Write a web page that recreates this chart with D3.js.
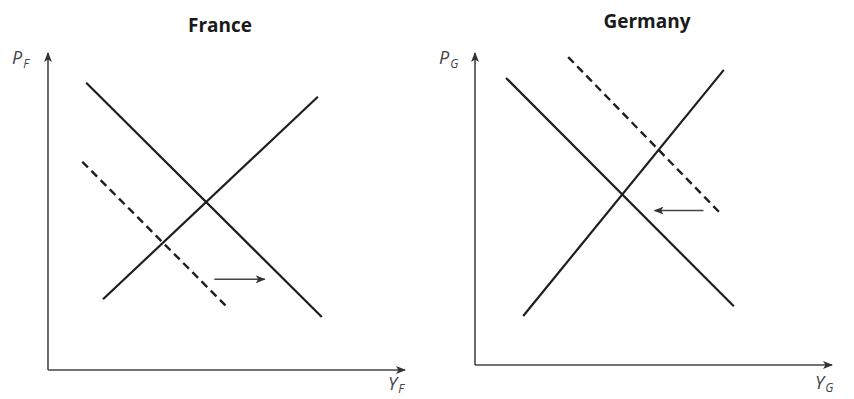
<!DOCTYPE html>
<html>
<head>
<meta charset="utf-8">
<script src="https://cdn.jsdelivr.net/npm/d3@7"></script>
<style>
  body { margin: 0; background: #fff; }
  svg { display: block; }
  .title { font-family: "Open Sans", sans-serif; font-weight: bold; font-size: 19px; fill: #1a1a1a; }
  .lab { font-family: "Open Sans", sans-serif; font-style: italic; font-size: 18px; fill: #444; }
</style>
</head>
<body>
<script>
// panel titles and axis labels
var titles = ["France", "Germany"];
var yLabels = [["P", "F"], ["P", "G"]];
var xLabels = [["Y", "F"], ["Y", "G"]];

// lines in data units (0..10 on both axes), [x1, y1, x2, y2]
var demandF = [1.07, 9.06, 7.67, 1.67];
var supplyF = [1.54, 2.23, 7.56, 8.62];
var shiftF = [0.96, 6.57, 4.97, 2.04];
var arrowF = [4.66, 2.86, 6.07, 2.86];

var demandG = [0.87, 9.20, 7.25, 1.88];
var supplyG = [1.35, 1.57, 6.97, 9.46];
var shiftG = [2.61, 9.87, 6.85, 4.89];
var arrowG = [6.40, 4.95, 5.03, 4.95];

var W = 854, H = 399;

var svg = d3.select("body").append("svg")
    .attr("width", W)
    .attr("height", H);

// arrowhead marker
svg.append("defs").append("marker")
    .attr("id", "head")
    .attr("viewBox", "0 0 10 8")
    .attr("refX", 9).attr("refY", 4)
    .attr("markerWidth", 10).attr("markerHeight", 8)
    .attr("markerUnits", "userSpaceOnUse")
    .attr("orient", "auto")
    .append("path")
    .attr("d", "M0,0 L10,4 L0,8 L2.5,4 Z")
    .attr("fill", "#333");

var panels = [
    {ox: 48, oy: 370, xEnd: 405, yTop: 53, lines: [demandF, supplyF], dashed: shiftF, arrow: arrowF, tx: 220, ty: 32, xly: 390},
    {ox: 475, oy: 365, xEnd: 832, yTop: 53, lines: [demandG, supplyG], dashed: shiftG, arrow: arrowG, tx: 647, ty: 28, xly: 389}
];

panels.forEach(function (p, i) {
    var x = d3.scaleLinear().domain([0, 10]).range([p.ox, p.xEnd]);
    var y = d3.scaleLinear().domain([0, 10]).range([p.oy, p.yTop]);
    var g = svg.append("g");

    g.append("text").attr("class", "title")
        .attr("x", p.tx).attr("y", p.ty)
        .attr("text-anchor", "middle")
        .text(titles[i]);

    // axes
    g.append("line")
        .attr("x1", x(0)).attr("y1", y(0))
        .attr("x2", x(0)).attr("y2", y(10))
        .attr("stroke", "#444").attr("stroke-width", 1.6)
        .attr("marker-end", "url(#head)");
    g.append("line")
        .attr("x1", x(0)).attr("y1", y(0))
        .attr("x2", x(10)).attr("y2", y(0))
        .attr("stroke", "#444").attr("stroke-width", 1.6)
        .attr("marker-end", "url(#head)");

    // axis labels
    var yl = g.append("text").attr("class", "lab")
        .attr("x", x(0) - 36).attr("y", y(10) + 11);
    yl.append("tspan").text(yLabels[i][0]);
    yl.append("tspan").attr("dx", 1).attr("dy", 4).attr("font-size", 12).text(yLabels[i][1]);

    var xl = g.append("text").attr("class", "lab")
        .attr("x", x(10) - 17).attr("y", p.xly);
    xl.append("tspan").text(xLabels[i][0]);
    xl.append("tspan").attr("dx", 1).attr("dy", 3).attr("font-size", 12).text(xLabels[i][1]);

    // solid curves
    p.lines.forEach(function (d) {
        g.append("line")
            .attr("x1", x(d[0])).attr("y1", y(d[1]))
            .attr("x2", x(d[2])).attr("y2", y(d[3]))
            .attr("stroke", "#1e1e1e").attr("stroke-width", 2.2);
    });

    // shifted (dashed) curve
    var d = p.dashed;
    g.append("line")
        .attr("x1", x(d[0])).attr("y1", y(d[1]))
        .attr("x2", x(d[2])).attr("y2", y(d[3]))
        .attr("stroke", "#1e1e1e").attr("stroke-width", 2.4)
        .attr("stroke-dasharray", "8,5");

    // shift arrow
    var a = p.arrow;
    g.append("line")
        .attr("x1", x(a[0])).attr("y1", y(a[1]))
        .attr("x2", x(a[2])).attr("y2", y(a[3]))
        .attr("stroke", "#444").attr("stroke-width", 1.5)
        .attr("marker-end", "url(#head)");
});
</script>
</body>
</html>
